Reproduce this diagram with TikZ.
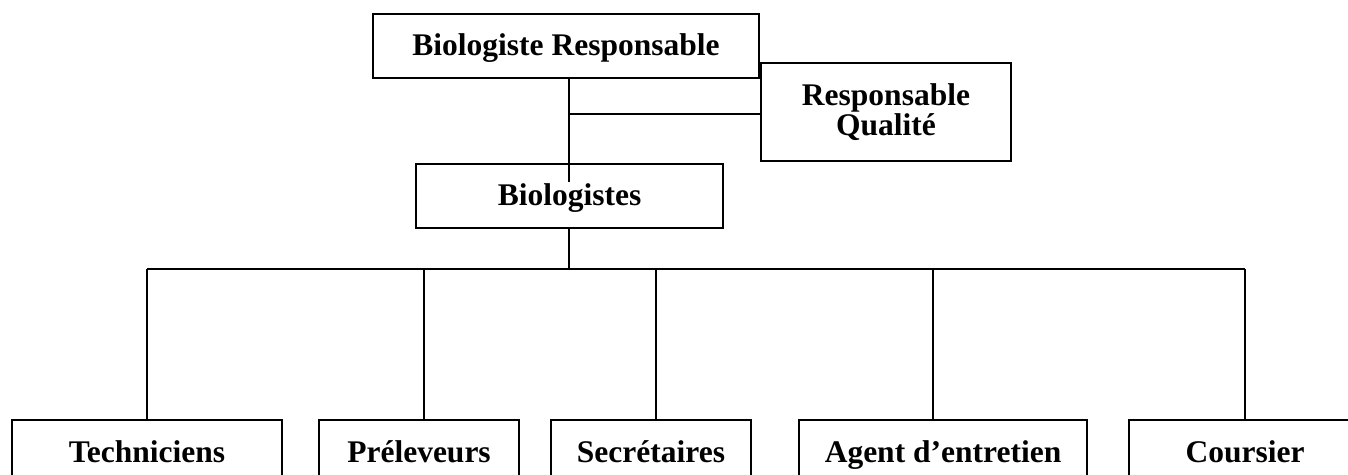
\documentclass[tikz,border=0pt]{standalone}
\usepackage{fontspec}
\setmainfont{Liberation Serif}
\begin{document}
\begin{tikzpicture}[x=1pt,y=-1pt,
  box/.style={draw, line width=1.8pt, inner sep=0pt, align=center,
    font=\fontsize{31.5}{29.5}\selectfont\bfseries},
  onerow/.style={box, text height=24pt, text depth=5pt},
  lowrow/.style={box, text height=24pt, text depth=4pt},
  link/.style={line width=1.4pt}]
\clip (0,0) rectangle (1348,474);
\useasboundingbox (0,0) rectangle (1348,474);
\node[onerow, minimum width=386pt, minimum height=64pt] (top) at (566,46) {Biologiste Responsable};
\node[box, minimum width=250pt, minimum height=98pt] (rq) at (886,112) {Responsable\\Qualité};
\node[onerow, minimum width=307pt, minimum height=64pt] (bio) at (569.5,196) {Biologistes};
\node[lowrow, minimum width=270pt, minimum height=64pt] (tech) at (147,452) {Techniciens};
\node[lowrow, minimum width=200pt, minimum height=64pt] (prel) at (419,452) {Préleveurs};
\node[lowrow, minimum width=200pt, minimum height=64pt] (secr) at (651,452) {Secrétaires};
\node[lowrow, minimum width=288pt, minimum height=64pt] (agent) at (943,452) {Agent d’entretien};
\node[lowrow, minimum width=232pt, minimum height=64pt] (cour) at (1245,452) {Coursier};
\coordinate (jut) at (569,182);
\coordinate (bus) at (0,269);
% top to biologistes
\draw[link] (jut |- top.south) -- (jut);
\draw[link] ([yshift=-2pt]rq.west -| jut) -- ([yshift=-2pt]rq.west);
% biologistes to bus
\draw[link] (bio.south -| jut) -- (bus -| jut);
\draw[link] (bus -| tech.north) -- (bus -| cour.north);
\draw[link] (bus -| tech.north) -- (tech.north);
\draw[link] ([xshift=5pt]prel.north |- bus) -- ([xshift=5pt]prel.north);
\draw[link] ([xshift=5pt]secr.north |- bus) -- ([xshift=5pt]secr.north);
\draw[link] ([xshift=-10pt]agent.north |- bus) -- ([xshift=-10pt]agent.north);
\draw[link] (bus -| cour.north) -- (cour.north);
\end{tikzpicture}
\end{document}
